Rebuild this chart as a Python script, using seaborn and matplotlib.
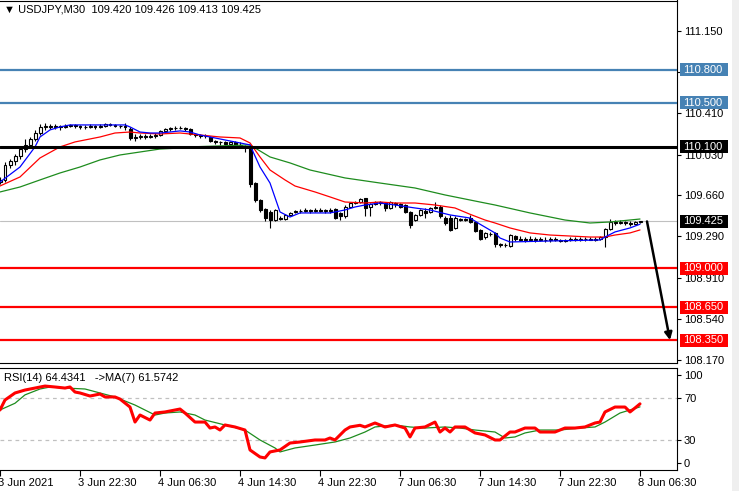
import numpy as np
import pandas as pd
import matplotlib
matplotlib.use("Agg")
import matplotlib.pyplot as plt
from matplotlib.patches import Rectangle
from matplotlib.transforms import ScaledTranslation
import seaborn as sns

# USDJPY M30, one value per bar (3 Jun 14:30 -> 8 Jun 06:30)
bar_open = [
    109.78, 109.80, 109.94, 109.97, 110.02, 110.08, 110.12, 110.17, 110.23, 110.28,
    110.29, 110.28, 110.29, 110.28, 110.29, 110.30, 110.29, 110.28, 110.28, 110.29,
    110.28, 110.29, 110.31, 110.30, 110.29, 110.29, 110.26, 110.18, 110.19, 110.20,
    110.19, 110.20, 110.21, 110.24, 110.26, 110.27, 110.27, 110.27, 110.26, 110.22,
    110.21, 110.20, 110.19, 110.15, 110.14, 110.14, 110.13, 110.14, 110.12, 110.11,
    110.11, 109.77, 109.62, 109.54, 109.51, 109.44, 109.46, 109.45, 109.48, 109.51,
    109.52, 109.52, 109.53, 109.52, 109.53, 109.52, 109.53, 109.54, 109.50, 109.47,
    109.56, 109.59, 109.60, 109.64, 109.56, 109.58, 109.60, 109.59, 109.55, 109.59,
    109.58, 109.57, 109.51, 109.44, 109.48, 109.52, 109.51, 109.55, 109.56, 109.46,
    109.46, 109.37, 109.45, 109.44, 109.46, 109.42, 109.35, 109.28, 109.31, 109.32,
    109.22, 109.21, 109.20, 109.29, 109.27, 109.26, 109.27, 109.26, 109.27, 109.26,
    109.26, 109.27, 109.26, 109.25, 109.26, 109.27, 109.26, 109.27, 109.27, 109.26,
    109.27, 109.28, 109.36, 109.42, 109.41, 109.42, 109.41, 109.40, 109.420,
]
bar_high = [
    109.83, 109.96, 109.99, 110.04, 110.11, 110.17, 110.19, 110.25, 110.31, 110.32,
    110.31, 110.31, 110.30, 110.31, 110.31, 110.31, 110.30, 110.30, 110.31, 110.30,
    110.31, 110.32, 110.32, 110.31, 110.30, 110.32, 110.28, 110.22, 110.22, 110.22,
    110.22, 110.23, 110.25, 110.27, 110.28, 110.29, 110.29, 110.28, 110.27, 110.23,
    110.22, 110.22, 110.20, 110.16, 110.15, 110.15, 110.15, 110.15, 110.14, 110.12,
    110.12, 109.78, 109.63, 109.55, 109.53, 109.54, 109.47, 109.49, 109.51, 109.53,
    109.54, 109.55, 109.54, 109.55, 109.55, 109.54, 109.55, 109.55, 109.51, 109.57,
    109.60, 109.61, 109.64, 109.64, 109.59, 109.61, 109.61, 109.60, 109.61, 109.60,
    109.59, 109.58, 109.52, 109.49, 109.54, 109.55, 109.56, 109.60, 109.57, 109.47,
    109.48, 109.47, 109.46, 109.46, 109.48, 109.43, 109.36, 109.33, 109.33, 109.33,
    109.23, 109.23, 109.31, 109.30, 109.29, 109.28, 109.29, 109.28, 109.28, 109.28,
    109.28, 109.28, 109.27, 109.27, 109.28, 109.28, 109.28, 109.28, 109.28, 109.28,
    109.29, 109.37, 109.45, 109.44, 109.44, 109.43, 109.43, 109.43, 109.426,
]
bar_low = [
    109.76, 109.78, 109.91, 109.94, 109.99, 110.05, 110.10, 110.15, 110.21, 110.25,
    110.26, 110.26, 110.25, 110.27, 110.28, 110.27, 110.26, 110.26, 110.27, 110.26,
    110.27, 110.28, 110.29, 110.28, 110.27, 110.25, 110.16, 110.15, 110.17, 110.17,
    110.18, 110.18, 110.20, 110.23, 110.24, 110.25, 110.26, 110.24, 110.21, 110.19,
    110.18, 110.18, 110.14, 110.13, 110.12, 110.12, 110.12, 110.11, 110.10, 110.05,
    109.74, 109.60, 109.51, 109.43, 109.37, 109.43, 109.44, 109.44, 109.47, 109.50,
    109.50, 109.51, 109.50, 109.51, 109.51, 109.50, 109.50, 109.45, 109.44, 109.46,
    109.55, 109.58, 109.59, 109.47, 109.47, 109.57, 109.57, 109.52, 109.54, 109.56,
    109.55, 109.50, 109.37, 109.43, 109.47, 109.46, 109.50, 109.54, 109.46, 109.39,
    109.34, 109.36, 109.43, 109.43, 109.41, 109.33, 109.26, 109.27, 109.29, 109.19,
    109.19, 109.19, 109.19, 109.25, 109.25, 109.24, 109.25, 109.24, 109.25, 109.24,
    109.24, 109.25, 109.24, 109.24, 109.25, 109.25, 109.25, 109.25, 109.26, 109.25,
    109.26, 109.19, 109.35, 109.39, 109.40, 109.39, 109.38, 109.39, 109.413,
]
bar_close = [
    109.80, 109.94, 109.97, 110.02, 110.08, 110.12, 110.17, 110.23, 110.28, 110.29,
    110.28, 110.29, 110.28, 110.29, 110.30, 110.29, 110.28, 110.28, 110.29, 110.28,
    110.29, 110.31, 110.30, 110.29, 110.29, 110.28, 110.18, 110.19, 110.20, 110.19,
    110.20, 110.21, 110.24, 110.26, 110.27, 110.27, 110.27, 110.26, 110.22, 110.21,
    110.20, 110.20, 110.15, 110.14, 110.14, 110.13, 110.14, 110.12, 110.11, 110.10,
    109.76, 109.62, 109.53, 109.46, 109.44, 109.53, 109.45, 109.48, 109.50, 109.52,
    109.52, 109.53, 109.52, 109.53, 109.52, 109.53, 109.52, 109.46, 109.47, 109.56,
    109.59, 109.60, 109.63, 109.55, 109.58, 109.60, 109.59, 109.55, 109.60, 109.58,
    109.56, 109.51, 109.39, 109.48, 109.53, 109.50, 109.55, 109.56, 109.47, 109.41,
    109.35, 109.46, 109.44, 109.45, 109.42, 109.34, 109.27, 109.32, 109.31, 109.22,
    109.21, 109.21, 109.30, 109.27, 109.26, 109.27, 109.26, 109.27, 109.26, 109.26,
    109.27, 109.26, 109.25, 109.26, 109.27, 109.26, 109.27, 109.27, 109.26, 109.27,
    109.28, 109.36, 109.42, 109.41, 109.42, 109.41, 109.40, 109.42, 109.425,
]

time_labels = ["3 Jun 2021", "3 Jun 22:30", "4 Jun 06:30", "4 Jun 14:30", "4 Jun 22:30",
               "7 Jun 06:30", "7 Jun 14:30", "7 Jun 22:30", "8 Jun 06:30"]
label_bars = [0, 16, 32, 48, 64, 80, 96, 112, 128]

# moving averages on price (read at some bars)
ma_fast_bar = [0, 4, 7, 8, 10, 12, 14, 20, 25, 26, 28, 30, 32, 34, 36, 38, 40, 42, 44, 47,
               50, 52, 54, 56, 58, 60, 66, 69, 71, 73, 76, 79, 83, 86, 90, 94, 96, 99, 100,
               102, 110, 120, 121, 123, 126, 128]
ma_fast = [109.782, 109.918, 110.100, 110.190, 110.254, 110.281, 110.299, 110.299, 110.299,
           110.281, 110.235, 110.226, 110.226, 110.235, 110.245, 110.235, 110.208, 110.190,
           110.172, 110.145, 110.118, 109.918, 109.773, 109.511, 109.465, 109.502, 109.502,
           109.529, 109.556, 109.574, 109.592, 109.574, 109.547, 109.529, 109.484, 109.456,
           109.400, 109.321, 109.275, 109.239, 109.248, 109.257, 109.284, 109.330, 109.366,
           109.400]
ma_mid_bar = [0, 4, 8, 12, 15, 20, 23, 26, 28, 32, 36, 40, 44, 48, 50, 52, 54, 57, 59, 63,
              66, 69, 73, 76, 79, 83, 87, 91, 94, 97, 99, 102, 106, 110, 114, 118, 121, 123,
              126, 128]
ma_mid = [109.746, 109.828, 110.000, 110.100, 110.145, 110.190, 110.226, 110.235, 110.226,
          110.217, 110.226, 110.208, 110.190, 110.181, 110.136, 110.009, 109.891, 109.801,
          109.746, 109.692, 109.647, 109.601, 109.592, 109.601, 109.592, 109.592, 109.574,
          109.547, 109.490, 109.438, 109.411, 109.366, 109.321, 109.302, 109.293, 109.284,
          109.284, 109.302, 109.321, 109.348]
ma_slow_bar = [0, 4, 8, 12, 16, 20, 24, 28, 32, 36, 38, 50, 54, 58, 62, 69, 76, 83, 89, 96,
               99, 106, 113, 118, 122, 126, 128]
ma_slow = [109.692, 109.737, 109.801, 109.864, 109.918, 109.982, 110.027, 110.054, 110.081,
           110.090, 110.100, 110.118, 110.009, 109.955, 109.891, 109.819, 109.773, 109.728,
           109.665, 109.601, 109.574, 109.502, 109.438, 109.411, 109.420, 109.438, 109.447]

resistance = [110.800, 110.500]
pivot = 110.100
supports = [109.000, 108.650, 108.350]
target = 108.350
price_ticks = [111.150, 110.780, 110.410, 110.030, 109.660, 109.290, 108.910, 108.540, 108.170]

# RSI(14) and its MA(7)
rsi_bar = [0, 1, 3, 5, 7, 9, 11, 13, 14, 15, 16, 18, 20, 21, 23, 24, 26, 27, 28, 30, 31, 33,
           36, 37, 39, 41, 42, 43, 44, 45, 47, 49, 50, 52, 53, 54, 56, 58, 60, 63, 65, 66, 67,
           69, 70, 72, 73, 74, 75, 77, 79, 81, 82, 83, 85, 87, 88, 89, 90, 91, 93, 95, 97, 99,
           100, 102, 103, 105, 107, 108, 111, 113, 115, 117, 119, 120, 121, 123, 125, 126, 127,
           128]
rsi = [58.6, 68.1, 74.8, 77.6, 79.5, 81.4, 80.5, 79.5, 80.5, 75.7, 74.8, 71.9, 73.8, 71.0,
       71.0, 69.0, 61.4, 47.1, 53.8, 49.0, 55.7, 56.7, 59.5, 55.7, 47.1, 47.1, 41.4, 42.4,
       39.5, 44.3, 42.4, 39.5, 20.5, 13.8, 12.9, 18.6, 20.5, 27.1, 28.1, 30.0, 30.0, 31.9,
       30.0, 39.5, 42.4, 44.0, 42.4, 44.3, 46.2, 42.4, 44.3, 41.4, 32.9, 41.4, 42.4, 47.1,
       37.6, 41.4, 37.6, 42.4, 42.4, 36.7, 34.8, 30.0, 30.0, 37.6, 37.6, 41.4, 41.4, 37.6,
       37.6, 41.4, 41.4, 42.4, 46.2, 47.1, 56.7, 61.4, 61.4, 56.7, 60.5, 64.4341]
rsi_ma_bar = [0, 3, 5, 8, 10, 13, 17, 20, 23, 27, 31, 33, 36, 39, 41, 45, 49, 52, 55, 56, 59,
              63, 67, 70, 73, 75, 79, 82, 85, 89, 92, 95, 99, 101, 103, 105, 108, 112, 116,
              119, 121, 124, 126, 128]
rsi_ma = [58.6, 65.0, 73.0, 78.6, 80.5, 79.5, 78.6, 74.8, 71.0, 63.3, 53.8, 55.7, 56.7, 53.8,
          49.0, 44.3, 39.5, 30.0, 22.4, 18.6, 22.4, 25.2, 28.1, 31.9, 37.6, 42.4, 44.3, 42.4,
          41.4, 42.4, 41.4, 39.5, 37.6, 31.9, 32.9, 36.7, 39.5, 39.5, 41.4, 42.4, 47.1, 55.7,
          58.6, 61.5742]

sns.set_style("white")
plt.rcParams['font.family'] = ['Liberation Sans', 'DejaVu Sans']
plt.rcParams['font.size'] = 8
plt.rcParams['text.color'] = 'black'
plt.rcParams['xtick.color'] = 'black'
plt.rcParams['ytick.color'] = 'black'

fig = plt.figure(figsize=(7.39, 4.91), dpi=100)
W, H = 739, 491
ax = fig.add_axes([0, 1 - 363 / H, 677 / W, 362.5 / H])
ax_rsi = fig.add_axes([0, 1 - 470 / H, 677 / W, 102 / H])
fig.patches.append(Rectangle((732 / W, 0), 7 / W, 1, transform=fig.transFigure,
                             facecolor='#efefef', edgecolor='none'))

# candles
df = pd.DataFrame({"open": bar_open, "high": bar_high, "low": bar_low, "close": bar_close})
df["bar"] = np.arange(len(df))
up = df.close >= df.open
ax.vlines(df.bar, df.low, df.high, color="black", lw=0.8, zorder=3)
ax.bar(df.bar[up], (df.close - df.open)[up], bottom=df.open[up], width=0.6,
       color="white", edgecolor="black", lw=0.8, zorder=4)
ax.bar(df.bar[~up], (df.open - df.close)[~up], bottom=df.close[~up], width=0.6,
       color="black", edgecolor="black", lw=0.8, zorder=4)

sns.lineplot(x=ma_slow_bar, y=ma_slow, ax=ax, color="#1e8c1e", lw=0.9, legend=False, zorder=5)
sns.lineplot(x=ma_mid_bar, y=ma_mid, ax=ax, color="red", lw=0.9, legend=False, zorder=5)
sns.lineplot(x=ma_fast_bar, y=ma_fast, ax=ax, color="blue", lw=0.9, legend=False, zorder=5)

last = df.close.iloc[-1]
ax.axhline(last, color="#c0c0c0", lw=0.8, zorder=1)
for lvl in resistance:
    ax.axhline(lvl, color="#4682b4", lw=1.6, zorder=6)
ax.axhline(pivot, color="black", lw=2.2, zorder=6)
for lvl in supports:
    ax.axhline(lvl, color="red", lw=1.6, zorder=6)

ax.annotate("", xy=(134.0, target), xytext=(129.4, last),
            arrowprops=dict(arrowstyle="-|>", color="black", lw=1.8, mutation_scale=11,
                            shrinkA=0, shrinkB=0),
            annotation_clip=False, zorder=8)

ax.set_xlim(0, 135.4)
ax.set_ylim(108.143, 111.426)
y_span = 111.426 - 108.143
ax.set_xticks([])
ax.yaxis.tick_right()
ax.set_yticks(price_ticks)
ax.set_yticklabels([f"{t:.3f}" for t in price_ticks])
ax.tick_params(axis="y", right=True, direction="out", length=3, width=0.8, pad=2, labelsize=8)

# price tags on the scale
tag_h = 13 / 362.5 * y_span
tags = [(resistance[0], "#4682b4"), (resistance[1], "#4682b4"), (pivot, "black"),
        (last, "black"), (supports[0], "red"), (supports[1], "red"), (supports[2], "red")]
ytr = ax.get_yaxis_transform()
for price, face in tags:
    ax.add_patch(Rectangle((1.0045, price - tag_h / 2), 0.071, tag_h, transform=ytr,
                           facecolor=face, edgecolor="none", clip_on=False, zorder=10))
    ax.text(1.0089, price, f"{price:.3f}", transform=ytr, color="white", fontsize=8,
            va="center", ha="left", clip_on=False, zorder=11)

ax.text(0.006, 0.99, f"▼ USDJPY,M30  {bar_open[-1]:.3f} {bar_high[-1]:.3f} "
        f"{bar_low[-1]:.3f} {bar_close[-1]:.3f}",
        transform=ax.transAxes, va="top", ha="left", fontsize=8)

# RSI window
sns.lineplot(x=rsi_ma_bar, y=rsi_ma, ax=ax_rsi, color="#1e8c1e", lw=0.9, legend=False, zorder=3)
sns.lineplot(x=rsi_bar, y=rsi, ax=ax_rsi, color="red", lw=2.2, legend=False, zorder=4)
for lvl in (70, 30):
    ax_rsi.axhline(lvl, color="#c0c0c0", lw=0.9, ls=(0, (3, 3)), zorder=1)
ax_rsi.set_xlim(0, 135.4)
ax_rsi.set_ylim(1.4, 98.6)
ax_rsi.yaxis.tick_right()
ax_rsi.set_yticks([8, 30, 70, 92])
ax_rsi.set_yticklabels(["0", "30", "70", "100"])
ax_rsi.tick_params(axis="y", right=True, direction="out", length=3, width=0.8, pad=2, labelsize=8)
ax_rsi.set_xticks(label_bars)
ax_rsi.set_xticklabels(time_labels, ha="left")
ax_rsi.tick_params(axis="x", bottom=True, direction="out", length=4, width=0.8, pad=1.5,
                   labelsize=8)
shift = ScaledTranslation(-2 / 100, 0, fig.dpi_scale_trans)
for lbl in ax_rsi.get_xticklabels():
    lbl.set_transform(lbl.get_transform() + shift)
ax_rsi.text(0.006, 0.95, f"RSI(14) {rsi[-1]:.4f}   ->MA(7) {rsi_ma[-1]:.4f}",
            transform=ax_rsi.transAxes, va="top", ha="left", fontsize=8)

for a in (ax, ax_rsi):
    a.set_xlabel("")
    a.set_ylabel("")
    for side in ("top", "right", "bottom"):
        a.spines[side].set_color("black")
        a.spines[side].set_linewidth(0.8)
    a.spines["left"].set_visible(False)

fig.savefig("out.png", dpi=100)
